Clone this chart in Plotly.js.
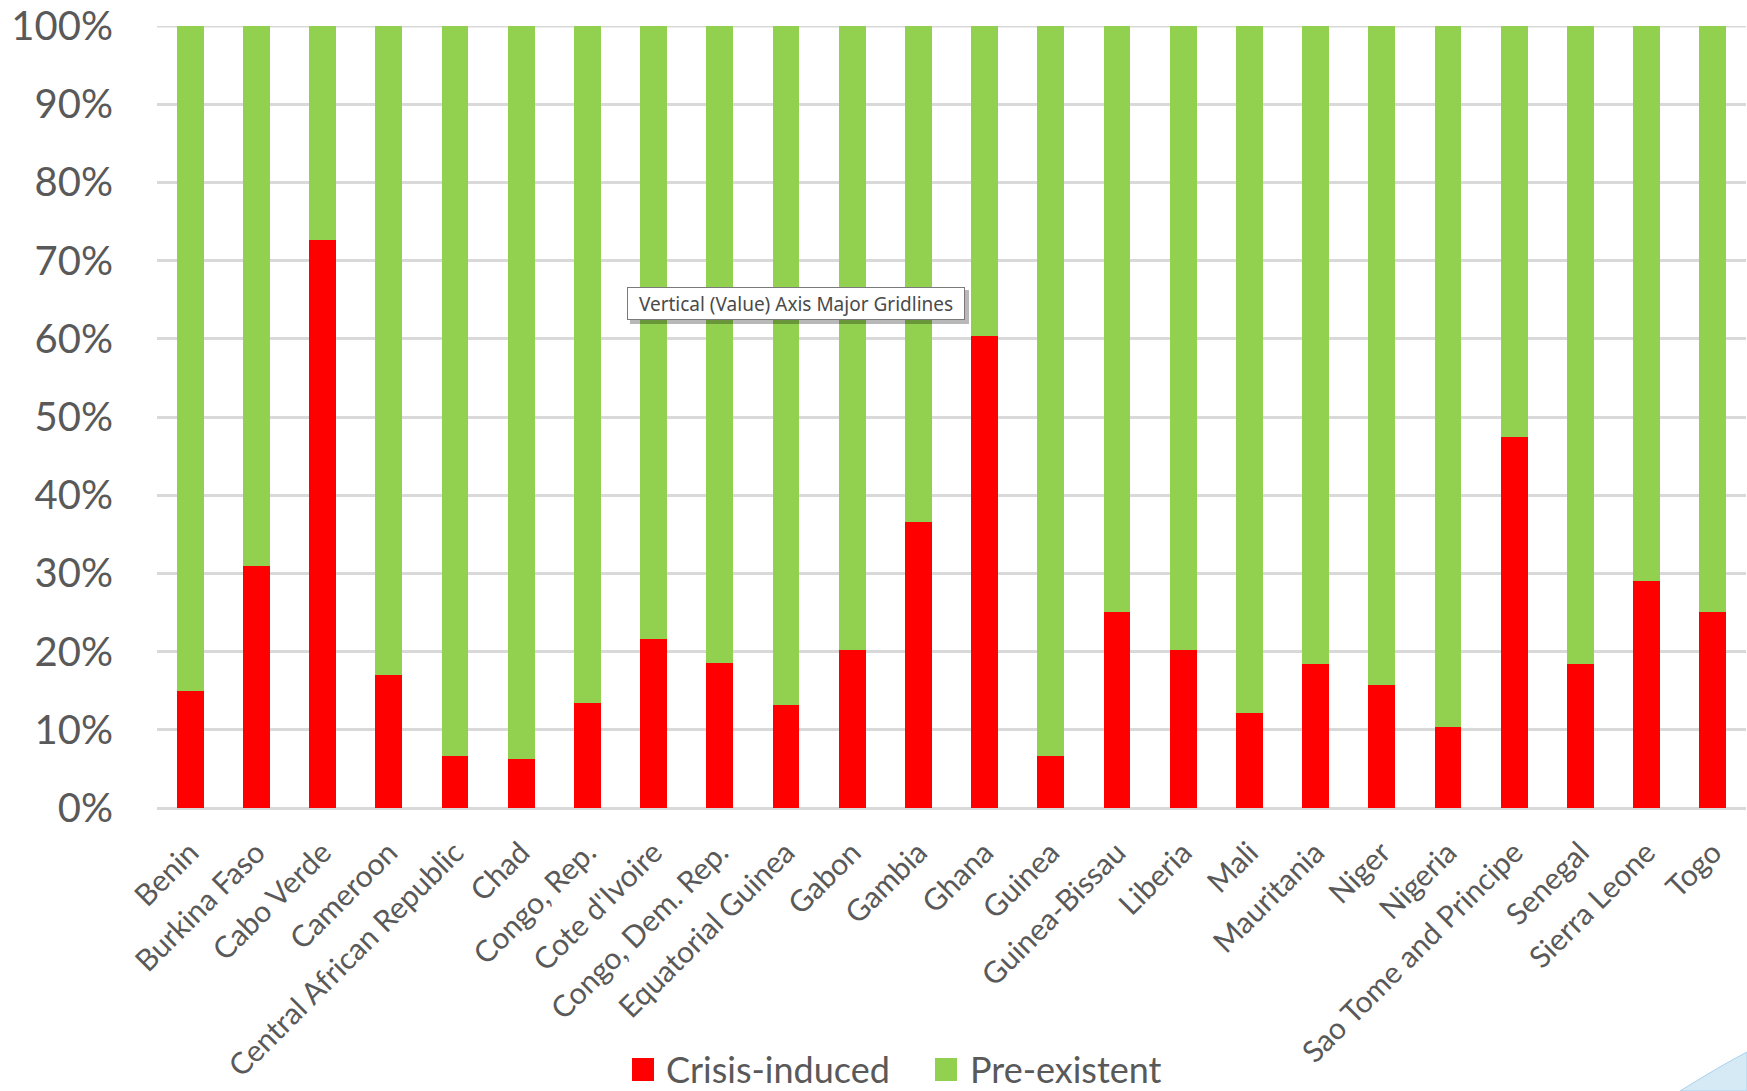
<!DOCTYPE html>
<html>
<head>
<meta charset="utf-8">
<script src="https://cdn.plot.ly/plotly-3.0.1.min.js"></script>
<style>
  html, body { margin: 0; padding: 0; background: #ffffff; }
  #chart { width: 1747px; height: 1091px; }
</style>
</head>
<body>
<div id="chart"></div>
<script>
// Countries on the category axis
const countries = [
  "Benin", "Burkina Faso", "Cabo Verde", "Cameroon", "Central African Republic",
  "Chad", "Congo, Rep.", "Cote d'Ivoire", "Congo, Dem. Rep.", "Equatorial Guinea",
  "Gabon", "Gambia", "Ghana", "Guinea", "Guinea-Bissau", "Liberia", "Mali",
  "Mauritania", "Niger", "Nigeria", "Sao Tome and Principe", "Senegal",
  "Sierra Leone", "Togo"
];

// Share of each country's total (percent)
const crisisInduced = [
  15.0, 31.0, 72.6, 17.0, 6.7, 6.3, 13.4, 21.6, 18.6, 13.2, 20.2, 36.6,
  60.4, 6.7, 25.1, 20.2, 12.1, 18.4, 15.7, 10.3, 47.4, 18.4, 29.0, 25.1
];
const preExistent = [
  85.0, 69.0, 27.4, 83.0, 93.3, 93.7, 86.6, 78.4, 81.4, 86.8, 79.8, 63.4,
  39.6, 93.3, 74.9, 79.8, 87.9, 81.6, 84.3, 89.7, 52.6, 81.6, 71.0, 74.9
];

const seriesNames = ["Crisis-induced", "Pre-existent"];
const seriesColors = ["#ff0000", "#92d050"];
const yTicks = [0, 10, 20, 30, 40, 50, 60, 70, 80, 90, 100];
const tipText = "Vertical (Value) Axis Major Gridlines";

const textGray = "#595959";
const gridGray = "#d9d9d9";
const fontFamily = "Lato, 'Open Sans', sans-serif";

const traces = [
  {
    type: "bar", name: seriesNames[0], x: countries, y: crisisInduced,
    marker: { color: seriesColors[0], line: { width: 0 } },
    hoverinfo: "x+y+name", showlegend: false
  },
  {
    type: "bar", name: seriesNames[1], x: countries, y: preExistent,
    marker: { color: seriesColors[1], line: { width: 0 } },
    hoverinfo: "x+y+name", showlegend: false
  }
];

// Plot area in pixels, used to place the legend swatches and the tooltip box
const W = 1747, H = 1091;
const M = { l: 157, r: 1, t: 26, b: 283 };
const plotW = W - M.l - M.r, plotH = H - M.t - M.b;
const px = v => (v - M.l) / plotW;
const py = v => (H - M.b - v) / plotH;

const shapes = [
  // top gridline at 100%
  { type: "line", xref: "paper", yref: "y", x0: 0, x1: 1, y0: 100, y1: 100,
    line: { color: gridGray, width: 3 }, layer: "below" },
  // legend swatches
  { type: "rect", xref: "paper", yref: "paper", x0: px(632), x1: px(654), y0: py(1058), y1: py(1081),
    fillcolor: seriesColors[0], line: { width: 0 } },
  { type: "rect", xref: "paper", yref: "paper", x0: px(935), x1: px(957), y0: py(1058), y1: py(1081),
    fillcolor: seriesColors[1], line: { width: 0 } },
  // tooltip drop shadow
  { type: "rect", xref: "paper", yref: "paper", x0: px(630), x1: px(969), y0: py(290), y1: py(324),
    fillcolor: "rgba(0,0,0,0.28)", line: { width: 0 }, layer: "above" },
  // corner ornament
  { type: "path", xref: "paper", yref: "paper",
    path: `M ${px(1680)} ${py(1091)} Q ${px(1720)} ${py(1066)} ${px(1747)} ${py(1052)} L ${px(1747)} ${py(1091)} Z`,
    fillcolor: "#d6eaf6", line: { color: "#a9d2ec", width: 1 } }
];

const annotations = [
  { xref: "paper", yref: "paper", x: px(664), y: py(1069), xanchor: "left", yanchor: "middle",
    text: seriesNames[0], showarrow: false, font: { family: fontFamily, size: 36, color: textGray } },
  { xref: "paper", yref: "paper", x: px(968), y: py(1069), xanchor: "left", yanchor: "middle",
    text: seriesNames[1], showarrow: false, font: { family: fontFamily, size: 36, color: textGray } },
  { xref: "paper", yref: "paper", x: px(796), y: py(303.5), xanchor: "center", yanchor: "middle",
    text: tipText, showarrow: false, width: 332, height: 27, borderpad: 2, borderwidth: 1,
    bordercolor: "#7a7a7a", bgcolor: "#ffffff",
    font: { family: "'Noto Sans', 'Open Sans', sans-serif", size: 19, color: "#4a4a4a" } }
];

const layout = {
  width: W, height: H,
  margin: M,
  paper_bgcolor: "#ffffff", plot_bgcolor: "#ffffff",
  barmode: "stack",
  bargap: 0.595,
  showlegend: false,
  font: { family: fontFamily, color: textGray },
  xaxis: {
    type: "category",
    tickangle: -45,
    tickfont: { family: fontFamily, size: 30, color: textGray },
    ticks: "outside", ticklen: 14, tickcolor: "rgba(0,0,0,0)",
    showgrid: false, showline: false, zeroline: false,
    fixedrange: true
  },
  yaxis: {
    range: [0, 100],
    tickmode: "array", tickvals: yTicks, ticktext: yTicks.map(v => v + "%"),
    tickfont: { family: fontFamily, size: 40, color: textGray },
    ticklabeloverflow: "allow",
    ticks: "outside", ticklen: 35, tickcolor: "rgba(0,0,0,0)",
    showgrid: true, gridcolor: gridGray, gridwidth: 3,
    zeroline: true, zerolinecolor: gridGray, zerolinewidth: 3,
    showline: false, fixedrange: true
  },
  shapes: shapes,
  annotations: annotations
};

Plotly.newPlot("chart", traces, layout, { displayModeBar: false, staticPlot: true });
</script>
</body>
</html>
